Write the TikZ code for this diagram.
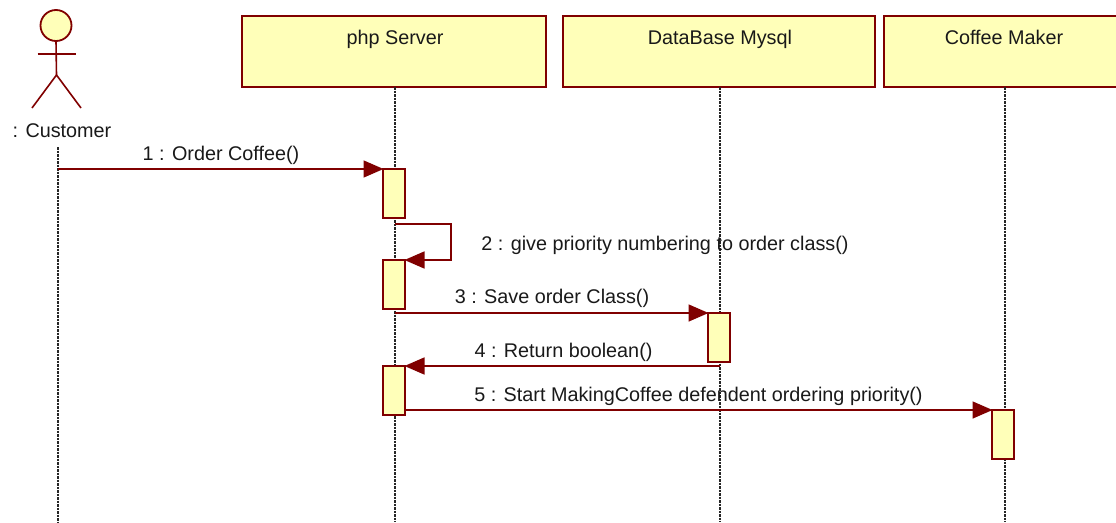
\documentclass[tikz,border=0pt]{standalone}
\usepackage{fontspec}
\setmainfont{Liberation Sans}
\usetikzlibrary{arrows.meta,calc}
\definecolor{umlline}{RGB}{128,0,0}
\definecolor{umlfill}{RGB}{255,255,185}
\tikzset{
	objbox/.style={draw=umlline, fill=umlfill, line width=1.8pt, minimum height=71pt, inner sep=0pt, outer sep=0pt},
	activebar/.style={draw=umlline, fill=umlfill, line width=1.8pt, minimum width=22pt, minimum height=49pt, inner sep=0pt, outer sep=0pt},
	lifeline/.style={black!85, line width=1.4pt, dash pattern=on 2.5pt off 1pt},
	msg/.style={draw=umlline, line width=1.6pt, -{Triangle[length=20pt,width=17pt,color=umlline]}, shorten >=-0.5pt},
	stick/.style={draw=umlline, line width=1.6pt},
	msgtext/.style={inner sep=0pt, anchor=base, font=\fontsize{19.8}{22}\selectfont, text=black!90}
}
\begin{document}
\begin{tikzpicture}[x=1pt,y=-1pt]
		\useasboundingbox (0,0) rectangle (1116,522);
		\clip (0,0) rectangle (1116,522);
		% objects
		\node[objbox, minimum width=304pt] (server) at (394,51.5) {};
		\node[objbox, minimum width=312pt] (database) at (719,51.5) {};
		\node[objbox, minimum width=242pt] (maker) at (1005,51.5) {};
		\node[msgtext] (serverlabel) at (395,44) {php Server};
		\node[msgtext] (databaselabel) at (720,44) {DataBase Mysql};
		\node[msgtext] (makerlabel) at (1004,44) {Coffee Maker};
		% actor
		\node[circle, draw=umlline, fill=umlfill, line width=1.8pt, minimum size=31pt, inner sep=0pt, outer sep=0pt] (head) at (56,25.5) {};
		\coordinate (hip) at (56.5,75);
		\coordinate (handleft) at (37.5,54);
		\coordinate (handright) at (75.5,54);
		\coordinate (footleft) at (32,108);
		\coordinate (footright) at (81,108);
		\draw[stick] (head.south) -- (hip);
		\draw[stick] (handleft) -- (handright);
		\draw[stick] (footleft) -- (hip) -- (footright);
		\node[msgtext] (customer) at (62,137) {: Customer};
		% lifelines
		\coordinate (customertop) at (58,147);
		\coordinate (customerend) at (58,522);
		\coordinate (serverend) at (395,522);
		\coordinate (databaseend) at (720,522);
		\coordinate (makerend) at (1005,522);
		\draw[lifeline] (customertop) -- (customerend);
		\draw[lifeline] (395,87) -- (serverend);
		\draw[lifeline] (720,87) -- (databaseend);
		\draw[lifeline] (1005,87) -- (makerend);
		% activations
		\node[activebar] (bara) at (394,193.5) {};
		\node[activebar] (barb) at (394,284.5) {};
		\node[activebar] (barc) at (394,390.5) {};
		\node[activebar] (bard) at (719,337.5) {};
		\node[activebar] (bare) at (1003,434.5) {};
		% messages
		\coordinate (start) at (58,169);
		\coordinate (selfstart) at (395,224);
		\coordinate (savestart) at (395,313);
		\coordinate (returnstart) at (720,366);
		\draw[msg] (start) -- (bara.north west);
		\draw[msg] (selfstart) -- (451,224) -- (451,260) -- (barb.north east);
		\draw[msg] (savestart) -- (bard.north west);
		\draw[msg] (returnstart) -- (barc.north east);
		\draw[msg] (barc.south east |- 0,410) -- (bare.north west);
		\node[msgtext] (msgone) at (221,160) {1 : Order Coffee()};
		\node[msgtext] (msgtwo) at (665,250) {2 : give priority numbering to order class()};
		\node[msgtext] (msgthree) at (552,303) {3 : Save order Class()};
		\node[msgtext] (msgfour) at (563.5,357) {4 : Return boolean()};
		\node[msgtext] (msgfive) at (698.5,401) {5 : Start MakingCoffee defendent ordering priority()};
	\end{tikzpicture}
\end{document}
